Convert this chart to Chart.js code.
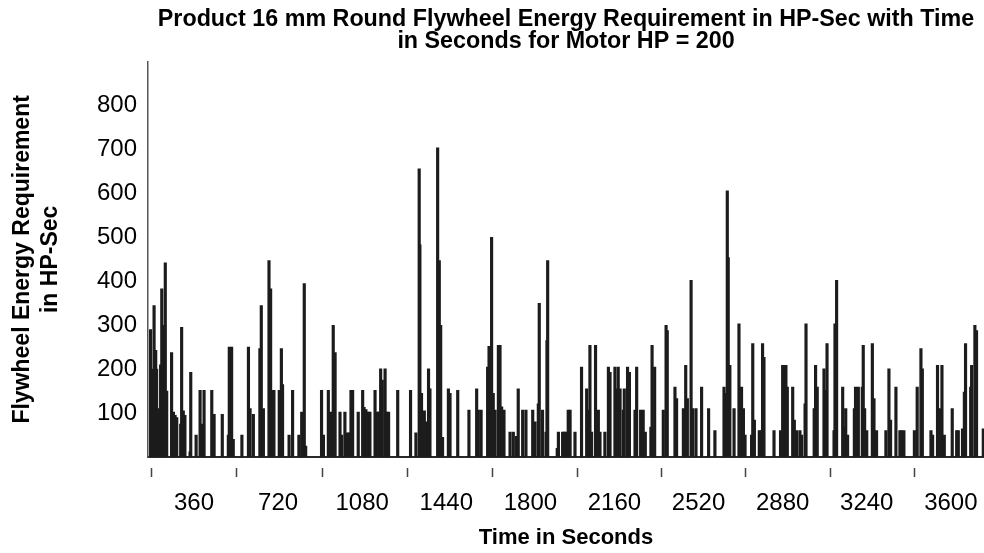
<!DOCTYPE html>
<html>
<head>
<meta charset="utf-8">
<script src="https://cdn.jsdelivr.net/npm/chart.js@4.4.1/dist/chart.umd.min.js"></script>
<style>
  html, body { margin: 0; padding: 0; background: #fff; }
  #wrap { width: 984px; height: 553px; }
</style>
</head>
<body>
<div id="wrap"><canvas id="myChart" width="984" height="553"></canvas></div>
<script>
'use strict';

// time of each spike (s) and energy (HP-Sec)
let timeSec = [
  174, 183, 189, 196, 200, 207, 217, 222, 229, 234, 237, 243, 264, 272, 279, 286, 303, 307, 314, 321,
  343, 346, 369, 386, 393, 403, 436, 446, 481, 507, 511, 521, 528, 565, 593, 600, 614, 642, 648, 657,
  681, 688, 697, 702, 725, 734, 739, 767, 782, 809, 821, 832, 838, 906, 914, 935, 945, 956, 964, 985,
  992, 1006, 1016, 1025, 1032, 1039, 1063, 1082, 1088, 1096, 1106, 1113, 1135, 1145, 1150, 1159, 1166, 1178, 1185, 1193,
  1232, 1287, 1310, 1324, 1327, 1334, 1346, 1356, 1364, 1370, 1403, 1410, 1416, 1424, 1449, 1456, 1489, 1537, 1570, 1577,
  1589, 1617, 1623, 1634, 1641, 1649, 1663, 1667, 1670, 1677, 1687, 1713, 1727, 1741, 1748, 1767, 1781, 1810, 1820, 1834,
  1838, 1852, 1867, 1871, 1874, 1915, 1920, 1938, 1945, 1951, 1962, 1970, 1991, 2019, 2041, 2045, 2055, 2062, 2079, 2084,
  2091, 2098, 2119, 2134, 2141, 2162, 2169, 2176, 2184, 2198, 2202, 2216, 2224, 2248, 2255, 2272, 2283, 2292, 2316, 2321,
  2332, 2369, 2381, 2386, 2419, 2426, 2455, 2465, 2472, 2488, 2495, 2509, 2533, 2563, 2590, 2629, 2633, 2643, 2647, 2654,
  2672, 2693, 2697, 2704, 2712, 2719, 2747, 2752, 2759, 2780, 2787, 2794, 2800, 2843, 2871, 2880, 2886, 2894, 2900, 2923,
  2930, 2940, 2954, 2961, 2976, 2980, 3015, 3021, 3028, 3057, 3065, 3070, 3100, 3104, 3111, 3137, 3142, 3150, 3158, 3187,
  3192, 3204, 3221, 3225, 3231, 3240, 3264, 3271, 3282, 3322, 3335, 3342, 3365, 3382, 3389, 3399, 3444, 3456, 3472, 3478,
  3515, 3522, 3543, 3551, 3562, 3572, 3606, 3625, 3632, 3650, 3658, 3663, 3685, 3689, 3703, 3710, 3739
];
let energyHpSec = [
  290, 200, 345, 243, 200, 110, 210, 383, 209, 300, 442, 150, 238, 102, 95, 90, 75, 295, 105, 95,
  12, 193, 50, 152, 75, 152, 152, 97, 97, 50, 250, 250, 40, 50, 250, 110, 97, 247, 345, 110,
  447, 383, 152, 152, 152, 247, 165, 50, 152, 50, 102, 395, 25, 152, 50, 152, 102, 300, 238, 102,
  50, 102, 55, 55, 152, 152, 102, 152, 113, 108, 102, 102, 152, 102, 102, 201, 175, 201, 102, 102,
  152, 152, 55, 656, 483, 145, 105, 80, 201, 155, 704, 447, 300, 45, 155, 145, 152, 107, 155, 107,
  107, 205, 252, 500, 145, 107, 254, 114, 254, 114, 107, 57, 57, 47, 155, 107, 107, 107, 80, 121,
  350, 107, 57, 265, 447, 20, 57, 57, 57, 57, 107, 107, 57, 205, 155, 107, 254, 57, 254, 57,
  107, 57, 57, 205, 193, 205, 155, 205, 155, 107, 155, 205, 193, 107, 205, 107, 107, 57, 68, 254,
  205, 107, 300, 288, 159, 133, 110, 209, 133, 402, 110, 110, 159, 110, 60, 159, 145, 606, 454, 209,
  110, 303, 110, 159, 110, 50, 50, 258, 84, 60, 60, 258, 227, 60, 60, 209, 209, 209, 159, 159,
  84, 60, 60, 50, 121, 303, 110, 209, 159, 201, 152, 258, 60, 303, 402, 159, 68, 110, 50, 110,
  159, 159, 159, 254, 110, 60, 258, 133, 60, 60, 201, 84, 159, 60, 60, 60, 60, 159, 247, 201,
  60, 50, 209, 110, 209, 50, 110, 60, 60, 64, 148, 258, 159, 209, 300, 288, 64
];
let timeTicks = [360, 720, 1080, 1440, 1800, 2160, 2520, 2880, 3240, 3600];
// tick marks printed on the scanned axis (they sit between the labels)
let scanTickTimes = [180, 544, 908, 1272, 1638, 2002, 2362, 2719, 3083, 3446];
let energyTicks = [100, 200, 300, 400, 500, 600, 700, 800];

let fontFamily = '"Liberation Sans", Arial, sans-serif';

let points = [];
for (let i = 0; i < timeSec.length; i++) {
  points.push({ x: timeSec[i], y: energyHpSec[i] });
}

// keep the plot running to the right edge like the scan
function noSidePadding(axis) {
  axis.paddingLeft = 0;
  axis.paddingRight = 0;
}

let chartNew = {
  type: 'bar',
  data: {
    datasets: [{
      label: 'Flywheel Energy',
      data: points,
      backgroundColor: '#1c1c1c',
      borderWidth: 0,
      barThickness: 2.5
    }]
  },
  options: {
    responsive: false,
    animation: false,
    layout: { padding: 0 },
    plugins: {
      legend: { display: false },
      tooltip: { enabled: false },
      title: {
        display: true,
        fullSize: false,
        text: ['Product 16 mm Round Flywheel Energy Requirement in HP-Sec with Time', 'in Seconds for Motor HP = 200'],
        color: '#000',
        font: { family: fontFamily, size: 23.3, weight: 'bold', lineHeight: 0.96 },
        padding: { top: 8, bottom: 9 }
      }
    },
    scales: {
      x: {
        type: 'linear',
        position: 'bottom',
        weight: 1,
        min: 163,
        max: 3742,
        offset: false,
        afterBuildTicks: function (axis) {
          axis.ticks = timeTicks.map(v => ({ value: v }));
        },
        afterFit: function (axis) {
          axis.height = 76;
          noSidePadding(axis);
        },
        grid: { display: false, drawTicks: false },
        border: { display: false },
        ticks: {
          color: '#000',
          padding: 12,
          maxRotation: 0,
          autoSkip: false,
          callback: v => String(v),
          font: { family: fontFamily, size: 24 }
        },
        title: {
          display: true,
          text: 'Time in Seconds',
          color: '#000',
          font: { family: fontFamily, size: 22, weight: 'bold', lineHeight: 1 },
          padding: { top: 0, bottom: 4 }
        }
      },
      xMarks: {
        type: 'linear',
        axis: 'x',
        position: 'bottom',
        weight: 0,
        min: 163,
        max: 3742,
        offset: false,
        afterBuildTicks: function (axis) {
          axis.ticks = scanTickTimes.map(v => ({ value: v }));
        },
        afterFit: function (axis) {
          axis.height = 20;
          noSidePadding(axis);
        },
        grid: {
          display: true,
          offset: false,
          drawOnChartArea: false,
          drawTicks: true,
          tickLength: 20,
          tickColor: '#444',
          tickWidth: 1.5,
          tickBorderDash: [0, 10, 10, 100]
        },
        border: { display: true, color: '#2a2a2a', width: 2 },
        ticks: { display: false }
      },
      y: {
        type: 'linear',
        min: 0,
        max: 900,
        afterBuildTicks: function (axis) {
          axis.ticks = energyTicks.map(v => ({ value: v }));
        },
        afterFit: function (axis) { axis.width = 148; },
        grid: { display: false, drawTicks: false },
        border: { display: true, color: '#555', width: 1.5 },
        ticks: {
          color: '#000',
          padding: 11,
          callback: v => String(v),
          font: { family: fontFamily, size: 24 }
        },
        title: {
          display: true,
          text: ['Flywheel Energy Requirement', 'in HP-Sec'],
          color: '#000',
          font: { family: fontFamily, size: 23, weight: 'bold', lineHeight: 1.25 },
          padding: { top: 8, bottom: 0 }
        }
      }
    }
  }
};

let ctx = document.getElementById('myChart').getContext('2d');
let myChart = new Chart(ctx, chartNew); //eslint-disable-line
</script>
</body>
</html>
